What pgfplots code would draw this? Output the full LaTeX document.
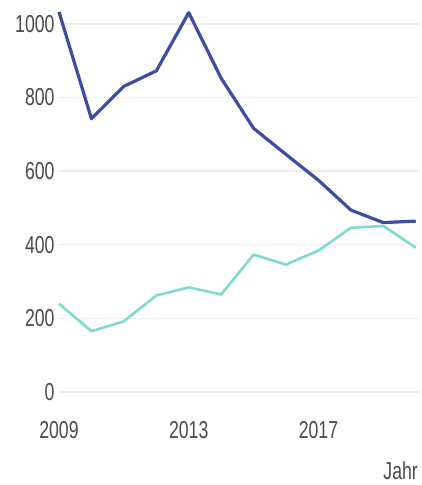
\documentclass[border=0pt]{standalone}
\usepackage{pgfplots}
\pgfplotsset{compat=1.18}
\usepackage{fontspec}
\setmainfont{Liberation Sans}[FakeStretch=0.72]
\definecolor{gridc}{HTML}{EEEEEE}
\definecolor{txtc}{HTML}{4A4A4A}
\definecolor{bluec}{HTML}{3D4DA0}
\definecolor{tealc}{HTML}{80DACE}
\begin{document}
\begin{tikzpicture}
\useasboundingbox (-59pt,-93pt) rectangle (362pt,392pt);
\begin{axis}[
  at={(0,0)}, anchor=south west,
  scale only axis,
  width=360pt, height=383pt,
  xmin=2009, xmax=2020.1,
  ymin=0, ymax=1040,
  axis line style={draw=none},
  xtick={2009,2013,2017},
  xticklabels={2009,2013,2017},
  ytick={0,200,400,600,800,1000},
  ymajorgrids,
  grid style={gridc, line width=1.6pt},
  major tick length=0pt,
  tick label style={font=\fontsize{24.5}{26}\selectfont, text=txtc},
  /pgf/number format/assume math mode=true,
  /pgf/number format/1000 sep={},
  yticklabel style={xshift=-1pt},
  xticklabel style={anchor=north, yshift=-26pt},
  xlabel={Jahr},
  xlabel style={at={(rel axis cs:1,0)}, anchor=south east, yshift=-88pt, xshift=-1pt, font=\fontsize{24.5}{26}\selectfont, text=txtc, inner sep=0pt},
  clip=false,
]
\addplot[tealc, line width=2.6pt, line join=round] coordinates {
(2009,240) (2010,165) (2011,192) (2012,262) (2013,284) (2014,265)
(2015,373) (2016,346) (2017,384) (2018,446) (2019,451) (2020,392)
};
\addplot[bluec, line width=3.2pt, line join=round] coordinates {
(2009,1032) (2010,742) (2011,830) (2012,872) (2013,1030) (2014,852)
(2015,716) (2016,645) (2017,575) (2018,494) (2019,460) (2020,464)
};
\end{axis}
\end{tikzpicture}
\end{document}
